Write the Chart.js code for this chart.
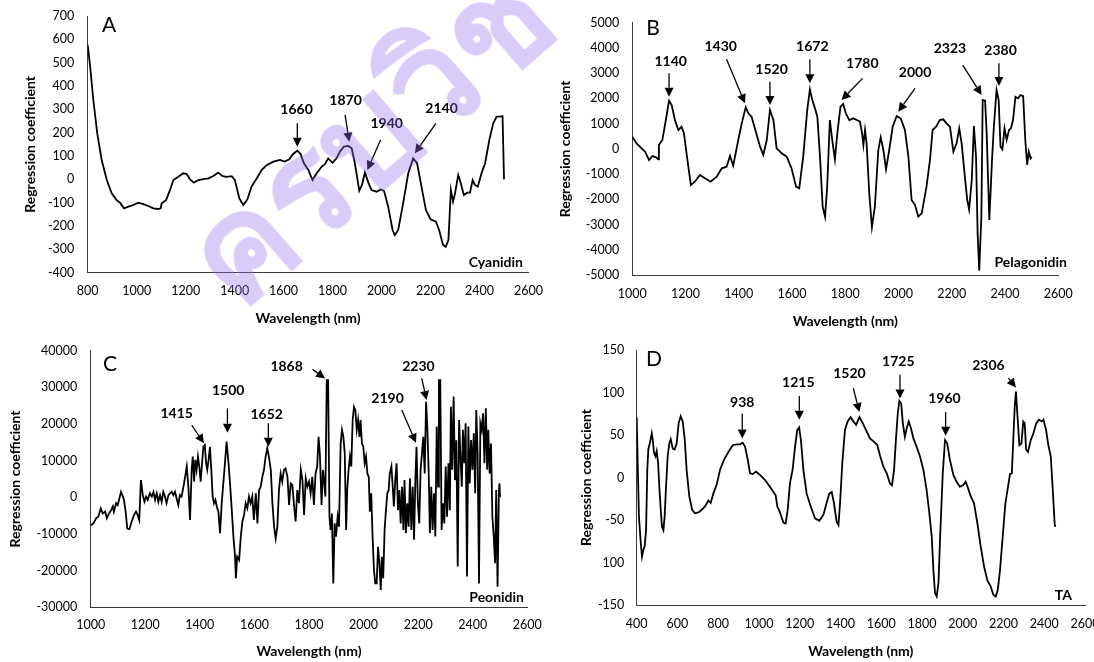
<!DOCTYPE html>
<html>
<head>
<meta charset="utf-8">
<script src="https://cdn.jsdelivr.net/npm/chart.js@4.4.1/dist/chart.umd.min.js"></script>
<style>
  html, body { margin: 0; padding: 0; background: #fff; }
  #wrap { position: relative; width: 1094px; height: 662px; overflow: hidden; }
  canvas { position: absolute; }
  #watermark {
    position: absolute; left: 248px; top: 186px;
    font: 600 140px "Noto Sans", sans-serif;
    color: rgba(150, 110, 235, 0.35);
    transform-origin: 0 100%;
    transform: rotate(-41deg);
    white-space: nowrap; pointer-events: none; line-height: 1;
  }
</style>
</head>
<body>
<div id="wrap">
  <canvas id="chartA" width="547" height="331" style="left:0;top:0"></canvas>
  <canvas id="chartB" width="547" height="331" style="left:547px;top:0"></canvas>
  <canvas id="chartC" width="547" height="331" style="left:0;top:331px"></canvas>
  <canvas id="chartD" width="547" height="331" style="left:547px;top:331px"></canvas>
  <div id="watermark">ครบวิชา</div>
</div>
<script>
// ---- Panel A: Cyanidin ----
const wavelengthA = [800,810,823,839,857,878,898,918,932,948,966,986,1007,1027,1048,1068,1088,1098,1102,1120,
  1136,1150,1170,1190,1204,1218,1234,1252,1272,1293,1313,1333,1351,1367,1388,1401,1419,1435,1452,1469,
  1490,1510,1531,1558,1585,1605,1623,1639,1656,1669,1683,1701,1718,1735,1755,1769,1782,1800,1816,1830,
  1846,1864,1878,1891,1909,1920,1932,1946,1959,1980,1996,2010,2027,2045,2054,2068,2088,2109,2129,2145,
  2163,2181,2200,2222,2235,2251,2262,2273,2283,2292,2300,2313,2322,2336,2350,2361,2372,2381,2393,2409,
  2423,2440,2456,2470,2484,2494,2500];
const coefA = [576,483,340,197,83,-3,-60,-89,-100,-124,-117,-110,-100,-106,-114,-124,-127,-124,-103,-89,
  -46,-3,11,26,23,0,-14,-3,1,4,14,29,14,11,14,-3,-81,-110,-86,-31,
  4,40,61,76,83,76,86,109,123,109,69,40,-3,26,54,66,90,71,90,119,
  140,143,133,69,-49,-24,29,-14,-46,-53,-43,-49,-117,-217,-239,-217,-103,26,90,69,
  -31,-131,-171,-181,-217,-281,-289,-260,-46,-96,-60,19,-10,-67,-57,-57,-3,-24,-31,29,
  69,169,240,269,269,271,0];
const yTicksA = ['700','600','500','400','300','200','100','0','-100','-200','-300','-400'];
const peaksA = ['1660','1870','1940','2140'];
const peakLabelA = [[1653,301],[1853,340],[2021,240],[2245,304]];
const arrowFromA = [[1656,240],[1851,276],[1996,169],[2222,240]];
const arrowToA = [[1656,140],[1868,161],[1942,40],[2136,112]];

// ---- Panel B: Pelagonidin ----
const wavelengthB = [1000,1016,1035,1048,1063,1076,1089,1098,1100,1113,1126,1138,1148,1160,1173,1185,1194,1207,1220,1235,
  1254,1273,1294,1317,1336,1354,1367,1379,1398,1411,1426,1436,1448,1464,1480,1492,1505,1517,1530,1542,
  1561,1580,1598,1615,1627,1642,1657,1667,1676,1686,1695,1705,1715,1724,1732,1742,1751,1761,1770,1782,
  1792,1802,1815,1830,1843,1855,1863,1868,1874,1880,1890,1900,1911,1924,1933,1943,1953,1965,1978,1993,
  2008,2024,2037,2049,2062,2074,2087,2105,2118,2128,2141,2155,2168,2180,2193,2206,2218,2228,2237,2249,
  2258,2265,2275,2283,2291,2297,2303,2311,2316,2325,2331,2341,2351,2358,2368,2376,2383,2390,2398,2406,
  2415,2422,2430,2439,2449,2458,2468,2476,2483,2489,2496,2500];
const coefB = [482,218,20,-112,-442,-284,-337,-416,152,350,1143,1909,1737,1143,746,878,614,-442,-1433,-1301,
  -1037,-1169,-1301,-1103,-773,-707,-284,-667,350,1010,1645,1407,1275,680,86,-244,350,1539,1143,20,
  -178,-310,-773,-1499,-1565,-310,1539,2358,1935,1605,1275,-310,-2292,-2688,-1499,1143,350,-416,614,1671,
  1777,1407,1143,1209,1143,1076,614,152,746,218,-1763,-3111,-2292,-46,456,-46,-812,-46,878,1301,
  1209,746,-310,-2028,-2226,-2688,-2556,-1499,-442,746,878,1143,1169,1010,878,-112,218,812,218,-1103,
  -2028,-2400,-1235,905,-310,-3348,-4828,-2688,1935,1909,614,-2820,-442,878,2330,1935,86,-20,812,350,
  746,812,1143,2067,2000,2133,2093,350,-640,-112,-376,-310];
const yTicksB = ['5000','4000','3000','2000','1000','0','-1000','-2000','-3000','-4000','-5000'];
const peaksB = ['1140','1430','1520','1672','1780','2000','2323','2380'];
const peakLabelB = [[1144,3454],[1332,4075],[1523,3150],[1676,4049],[1864,3388],[2062,3018],[2193,3983],[2383,3890]];
const arrowFromB = [[1138,2992],[1354,3547],[1517,2662],[1667,3547],[1865,2794],[2062,2398],[2241,3322],[2377,3388]];
const arrowToB = [[1138,2067],[1423,1803],[1517,1737],[1667,2596],[1786,1935],[1999,1473],[2312,2133],[2377,2490]];

// ---- Panel C: Peonidin ----
const wavelengthC = [1000,1010,1020,1028,1037,1044,1053,1059,1067,1075,1081,1085,1093,1099,1105,1111,1116,1122,1128,1134,
  1142,1150,1159,1166,1172,1178,1184,1191,1197,1203,1209,1217,1224,1230,1236,1242,1248,1254,1260,1266,
  1272,1278,1285,1291,1297,1303,1309,1315,1321,1327,1333,1340,1346,1352,1358,1364,1370,1374,1379,1383,
  1388,1393,1398,1403,1408,1413,1418,1423,1427,1432,1437,1442,1447,1452,1457,1462,1468,1474,1480,1486,
  1492,1498,1505,1511,1517,1523,1529,1532,1537,1544,1550,1556,1562,1568,1574,1580,1586,1592,1598,1605,
  1611,1617,1623,1629,1635,1641,1647,1653,1660,1666,1672,1678,1684,1690,1696,1702,1708,1714,1721,1727,
  1733,1739,1745,1751,1757,1763,1770,1776,1782,1788,1794,1800,1806,1812,1818,1824,1830,1835,1840,1846,
  1851,1856,1860,1865,1870,1875,1879,1884,1889,1894,1899,1905,1910,1916,1921,1926,1931,1936,1940,1945,
  1950,1955,1960,1965,1970,1975,1980,1985,1989,1994,1999,2004,2009,2014,2019,2023,2028,2033,2038,2043,
  2048,2053,2058,2063,2067,2072,2077,2082,2087,2092,2096,2102,2106,2111,2116,2121,2126,2131,2136,2141,
  2146,2150,2155,2160,2165,2170,2175,2180,2185,2190,2194,2199,2204,2209,2214,2219,2224,2229,2234,2239,
  2243,2248,2253,2258,2263,2268,2273,2276,2281,2286,2291,2296,2301,2306,2311,2316,2320,2325,2330,2335,
  2340,2345,2350,2355,2360,2364,2369,2374,2379,2384,2389,2394,2399,2404,2409,2413,2418,2423,2428,2433,
  2438,2443,2448,2453,2457,2462,2467,2472,2477,2482,2486,2491,2496,2498,2500];
const coefC = [-7600,-7100,-5700,-5300,-3000,-4400,-3900,-5700,-4400,-3500,-2500,-3900,-1600,-2100,-300,1500,600,-700,-3900,-8500,
  -8700,-6600,-4800,-3900,-4800,-6200,4700,600,-1200,200,-700,1100,200,1500,-700,1100,-1200,600,-1200,1500,
  200,-1600,600,1100,1500,600,1500,-300,-2100,600,200,2900,5600,8400,2900,-6200,7500,11100,4300,10200,
  7500,11100,8400,4300,9300,13800,14300,9300,7500,10200,13800,7500,200,-1600,-700,-2500,-3900,-9800,-1600,3800,
  9300,15200,9300,3400,-3500,-10700,-16200,-22100,-16200,-17100,-10700,-6600,-4800,-1600,-3000,200,-1600,200,-6200,1100,
  -7100,2000,2900,5600,7500,11100,13400,11100,7500,-1600,-8000,-11200,-8000,2000,6500,4300,7500,7900,5600,-2100,
  3800,3400,-2100,-6600,2000,-1600,7500,4700,-4800,5200,2900,4300,1100,5600,-2100,6500,8400,16500,11500,-2100,
  7500,3800,200,32000,32000,-5300,-8900,-4400,-23500,-7100,-10700,-5300,-8000,14700,18400,16500,12000,-8900,2000,7500,
  11100,8400,21100,24700,23800,18400,21100,16500,21100,14700,13800,9300,11100,6500,5600,-3900,1100,-10700,-19800,-23500,
  -23500,-13500,-18000,-25300,-16200,-22100,-8900,-3500,1100,2000,6500,8400,3800,-2500,4700,9300,-3500,2000,-7100,2900,
  -8900,4700,-9800,-1600,-8000,5200,-8900,2900,-11600,5600,13800,-1600,-7100,7500,12000,16500,6500,26100,18400,5600,
  -9800,2900,-8900,1100,-10700,19300,2900,32000,32000,-8900,-1600,-7100,8400,-5300,9300,-3500,24700,7500,27500,4700,
  15600,-18900,21100,11100,2900,18400,9300,20200,-21600,19300,3800,15600,7500,17500,1100,23800,12000,-23500,20200,18400,
  22900,9300,24300,7500,18400,6500,14700,-5300,-10700,-18000,2000,-24400,2000,3800,0];
const yTicksC = ['40000','30000','20000','10000','0','-10000','-20000','-30000'];
const peaksC = ['1415','1500','1652','1868','2190','2230'];
const peakLabelC = [[1315,22910],[1504,29270],[1645,22730],[1718,35820],[2088,27000],[2201,35640]];
const arrowFromC = [[1370,19730],[1501,24270],[1651,20180],[1813,34910],[2140,23820],[2213,32450]];
const arrowToC = [[1415,14730],[1501,17640],[1651,13820],[1859,32450],[2192,14910],[2231,26550]];

// ---- Panel D: TA ----
const wavelengthD = [400,405,411,420,426,433,439,446,452,457,465,474,479,485,492,498,505,511,518,524,
  531,537,544,552,560,567,577,586,596,606,616,626,636,645,658,672,686,703,719,735,
  752,763,776,793,809,829,850,871,891,907,920,932,945,956,969,986,1005,1030,1054,1071,
  1082,1090,1103,1120,1131,1141,1152,1165,1177,1188,1197,1206,1218,1234,1254,1275,1296,1316,1332,1345,
  1357,1368,1381,1390,1398,1409,1422,1435,1450,1463,1477,1493,1509,1525,1545,1565,1581,1594,1610,1627,
  1643,1653,1663,1672,1681,1689,1698,1706,1716,1725,1735,1746,1758,1774,1790,1807,1823,1836,1848,1856,
  1864,1872,1881,1889,1902,1913,1924,1937,1954,1970,1986,2003,2014,2024,2039,2055,2072,2088,2105,2121,
  2137,2150,2162,2172,2183,2196,2209,2222,2232,2241,2248,2255,2261,2268,2278,2288,2297,2304,2311,2320,
  2334,2347,2361,2374,2387,2396,2409,2420,2432,2441,2451,2454];
const coefD = [71,16,-46,-77,-93,-85,-81,-62,9,33,41,52,44,29,25,31,17,-11,-38,-58,
  -62,-46,-11,25,40,45,34,33,40,64,72,66,44,9,-22,-38,-42,-41,-38,-34,
  -27,-30,-19,-8,9,21,30,38,39,39,41,36,21,5,4,7,3,-3,-11,-17,
  -21,-34,-41,-53,-54,-38,-7,9,36,56,59,44,9,-19,-34,-48,-51,-44,-30,-19,
  -17,-30,-52,-56,-30,17,56,66,71,66,62,71,64,56,46,42,38,26,13,5,
  -7,-9,9,44,75,90,87,64,48,58,66,58,46,36,25,9,-15,-42,-70,-109,
  -136,-140,-124,-70,5,44,40,21,3,-5,-11,-9,-5,-11,-22,-30,-54,-81,-105,-121,
  -128,-138,-140,-132,-109,-70,-31,-11,4,5,44,83,101,75,38,40,66,64,33,30,
  44,52,64,68,66,68,56,38,25,-11,-54,-58];
const yTicksD = ['150','100','50','0','-50','100','-150'];
const peaksD = ['938','1215','1520','1725','1960','2306'];
const peakLabelD = [[918,88],[1193,112],[1444,122],[1684,136],[1910,93],[2126,132]];
const arrowFromD = [[918,75],[1198,96],[1463,105],[1692,121],[1916,77],[2224,117]];
const arrowToD = [[918,46],[1198,68],[1493,77],[1692,93],[1916,49],[2261,106]];

const FONT = 'Lato, "Open Sans", sans-serif';

// Draws the panel letter, compound name, peak labels and arrows
const overlay = {
  id: 'overlay',
  afterDatasetsDraw(chart, args, o) {
    const { ctx, chartArea: a, scales: { x, y } } = chart;
    ctx.save();
    ctx.fillStyle = '#000';
    ctx.strokeStyle = '#000';
    ctx.textBaseline = 'middle';

    ctx.font = '21px ' + FONT;
    ctx.textAlign = 'center';
    ctx.fillText(o.letter, a.left + o.letterAt[0], a.top + o.letterAt[1]);

    ctx.font = 'bold 14px ' + FONT;
    ctx.textAlign = 'right';
    ctx.fillText(o.name, a.right + o.nameAt[0], a.bottom + o.nameAt[1]);

    ctx.textAlign = 'center';
    o.peaks.forEach((txt, i) => {
      const lp = o.labelAt[i];
      ctx.fillText(txt, x.getPixelForValue(lp[0]), y.getPixelForValue(lp[1]));

      const x0 = x.getPixelForValue(o.from[i][0]), y0 = y.getPixelForValue(o.from[i][1]);
      const x1 = x.getPixelForValue(o.to[i][0]), y1 = y.getPixelForValue(o.to[i][1]);
      const ang = Math.atan2(y1 - y0, x1 - x0);
      const head = 9, half = 4.5;
      const bx = x1 - head * Math.cos(ang), by = y1 - head * Math.sin(ang);
      ctx.lineWidth = 1.3;
      ctx.beginPath();
      ctx.moveTo(x0, y0);
      ctx.lineTo(bx, by);
      ctx.stroke();
      ctx.beginPath();
      ctx.moveTo(x1, y1);
      ctx.lineTo(bx + half * Math.sin(ang), by - half * Math.cos(ang));
      ctx.lineTo(bx - half * Math.sin(ang), by + half * Math.cos(ang));
      ctx.closePath();
      ctx.fill();
    });
    ctx.restore();
  }
};

function makeChart(id, p) {
  const points = p.xs.map((v, i) => ({ x: v, y: p.ys[i] }));
  return new Chart(document.getElementById(id), {
    type: 'line',
    data: {
      datasets: [{
        data: points,
        borderColor: '#000',
        borderWidth: 1.8,
        pointRadius: 0,
        tension: 0,
        fill: false,
      }],
    },
    options: {
      responsive: false,
      animation: false,
      events: [],
      layout: { padding: p.pad },
      plugins: {
        legend: { display: false },
        tooltip: { enabled: false },
        overlay: p.overlay,
      },
      scales: {
        x: {
          type: 'linear',
          min: p.xMin, max: p.xMax,
          ticks: {
            stepSize: 200, autoSkip: false, maxRotation: 0, maxTicksLimit: 30,
            padding: p.xTickPad, color: '#000', font: { family: FONT, size: 12.5 },
            callback: (v) => String(v),
          },
          grid: { display: false, drawTicks: false },
          border: { color: '#3a3a3a', width: 1 },
          title: {
            display: true, text: 'Wavelength (nm)', color: '#000', padding: 0,
            font: { family: FONT, size: 14, weight: 'bold' },
          },
          afterFit(s) { s.height = p.xH; s.paddingLeft = 0; s.paddingRight = 0; },
        },
        y: {
          min: p.yMin, max: p.yMax,
          ticks: {
            stepSize: p.yStep, autoSkip: false, maxTicksLimit: 30,
            padding: p.yTickPad, color: '#000', font: { family: FONT, size: 12.5 },
            callback: (v) => {
              const i = Math.round((p.yMax - v) / p.yStep);
              return p.yLabels[i];
            },
          },
          grid: { display: false, drawTicks: false },
          border: { color: '#3a3a3a', width: 1 },
          title: {
            display: true, text: 'Regression coefficient', color: '#000', padding: 0,
            font: { family: FONT, size: 14, weight: 'bold' },
          },
          afterFit(s) { s.width = p.yW; s.paddingTop = 0; s.paddingBottom = 0; },
        },
      },
    },
    plugins: [overlay],
  });
}

makeChart('chartA', {
  xs: wavelengthA, ys: coefA, xMin: 800, xMax: 2600, yMin: -400, yMax: 700, yStep: 100, yLabels: yTicksA,
  pad: { left: 21.6, right: 18.5, top: 16, bottom: 4.6 }, yW: 66.1, xH: 53.7, xTickPad: 10.7, yTickPad: 13.4,
  overlay: { letter: 'A', letterAt: [21.3, 9], name: 'Cyanidin', nameAt: [-5.5, -10.7],
    peaks: peaksA, labelAt: peakLabelA, from: arrowFromA, to: arrowToA },
});

makeChart('chartB', {
  xs: wavelengthB, ys: coefB, xMin: 1000, xMax: 2600, yMin: -5000, yMax: 5000, yStep: 1000, yLabels: yTicksB,
  pad: { left: 10.1, right: 35.7, top: 22.7, bottom: 0.9 }, yW: 75.2, xH: 55.1, xTickPad: 11, yTickPad: 13,
  overlay: { letter: 'B', letterAt: [20.7, 5.3], name: 'Pelagonidin', nameAt: [8.7, -13],
    peaks: peaksB, labelAt: peakLabelB, from: arrowFromB, to: arrowToB },
});

makeChart('chartC', {
  xs: wavelengthC, ys: coefC, xMin: 1000, xMax: 2600, yMin: -30000, yMax: 40000, yStep: 10000, yLabels: yTicksC,
  pad: { left: 7.1, right: 19.7, top: 19.7, bottom: 1.9 }, yW: 83.6, xH: 52.8, xTickPad: 10.4, yTickPad: 13.4,
  overlay: { letter: 'C', letterAt: [19.3, 13.3], name: 'Peonidin', nameAt: [-3.3, -9.8],
    peaks: peaksC, labelAt: peakLabelC, from: arrowFromC, to: arrowToC },
});

makeChart('chartD', {
  xs: wavelengthD, ys: coefD, xMin: 400, xMax: 2600, yMin: -150, yMax: 150, yStep: 50, yLabels: yTicksD,
  pad: { left: 31.3, right: 9, top: 19, bottom: 1.9 }, yW: 58.4, xH: 55.1, xTickPad: 11.7, yTickPad: 12.4,
  overlay: { letter: 'D', letterAt: [17.3, 9.5], name: 'TA', nameAt: [-13, -10],
    peaks: peaksD, labelAt: peakLabelD, from: arrowFromD, to: arrowToD },
});
</script>
</body>
</html>
